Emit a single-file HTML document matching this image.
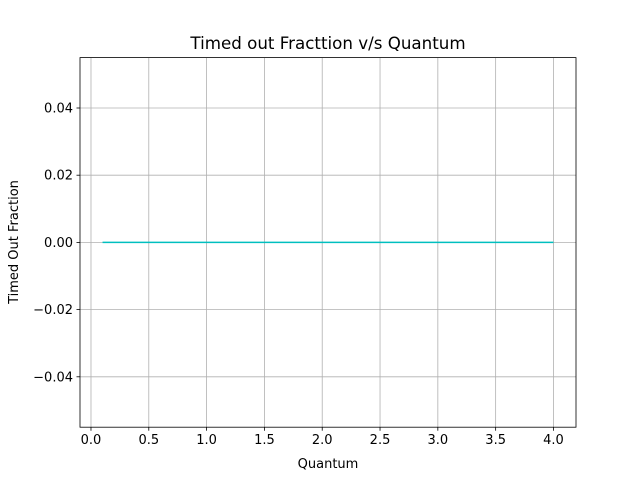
<!DOCTYPE html>
<html><head><meta charset="utf-8"><style>
body{margin:0;background:#fff}
svg text{font-family:"DejaVu Sans","Liberation Sans",sans-serif;font-size:13px;fill:#000}
</style></head><body>
<svg id="chart" width="640" height="480">
<rect width="640" height="480" fill="#fff"/>
<g id="grid"></g>
<g id="plot"></g>
<rect x="80" y="57.6" width="496" height="369.6" fill="none" stroke="#000" stroke-width="0.8"/>
<g id="ticks"></g>
<text x="328" y="49" text-anchor="middle" style="font-size:16.7px">Timed out Fracttion v/s Quantum</text>
<text x="328" y="468" text-anchor="middle">Quantum</text>
<text x="18" y="242" text-anchor="middle" transform="rotate(-90 18 242)">Timed Out Fraction</text>
</svg>
<script>
const xValues=[0.1,0.5,1.0,1.5,2.0,2.5,3.0,3.5,4.0];
const yValues=[0,0,0,0,0,0,0,0,0];
const xTicks=[0.0,0.5,1.0,1.5,2.0,2.5,3.0,3.5,4.0];
const xTickLabels=["0.0","0.5","1.0","1.5","2.0","2.5","3.0","3.5","4.0"];
const yTicks=[-0.04,-0.02,0.00,0.02,0.04];
const yTickLabels=["\u22120.04","\u22120.02","0.00","0.02","0.04"];
const ns="http://www.w3.org/2000/svg";
const L=80,R=576,T=57.6,B=427.2;
const xmin=-0.095,xmax=4.195,ymin=-0.055,ymax=0.055;
const sx=v=>L+(v-xmin)/(xmax-xmin)*(R-L);
const sy=v=>B-(v-ymin)/(ymax-ymin)*(B-T);
function mk(t,a,p){const e=document.createElementNS(ns,t);for(const k in a)e.setAttribute(k,a[k]);p.appendChild(e);return e;}
const grid=document.getElementById('grid'),ticks=document.getElementById('ticks'),plot=document.getElementById('plot');
xTicks.forEach((v,i)=>{const x=sx(v);
const g=mk('line',{x1:x,x2:x,y1:T,y2:B,stroke:'#b0b0b0','stroke-width':0.8},grid);


mk('line',{x1:x,x2:x,y1:B,y2:B+3.5,stroke:'#000','stroke-width':0.8},ticks);
const t=mk('text',{x:x,y:B+17,'text-anchor':'middle'},ticks);t.textContent=xTickLabels[i];

});
yTicks.forEach((v,i)=>{const y=sy(v);
const g=mk('line',{x1:L,x2:R,y1:y,y2:y,stroke:'#b0b0b0','stroke-width':0.8},grid);


mk('line',{x1:L-3.5,x2:L,y1:y,y2:y,stroke:'#000','stroke-width':0.8},ticks);
const t=mk('text',{x:L-7,y:y+4.5,'text-anchor':'end'},ticks);t.textContent=yTickLabels[i];

});
const pts=xValues.map((v,i)=>sx(v)+','+sy(yValues[i])).join(' ');
const pl=mk('polyline',{points:pts,fill:'none',stroke:'#00bfbf','stroke-width':1.5},plot);


</script>
</body></html>
